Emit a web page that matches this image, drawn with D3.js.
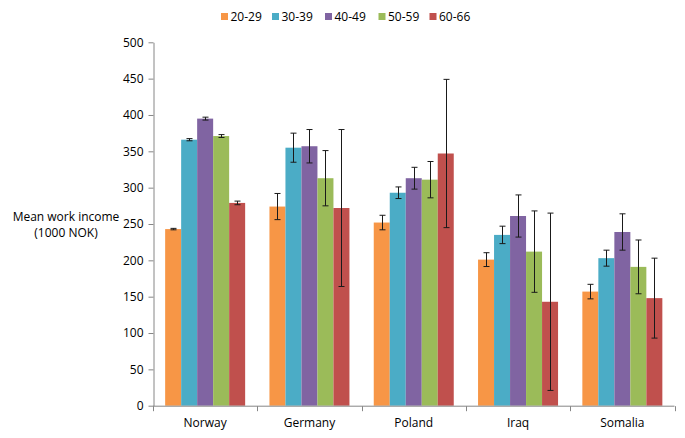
<!DOCTYPE html>
<html>
<head>
<meta charset="utf-8">
<script src="https://cdn.jsdelivr.net/npm/d3@7"></script>
<style>
  html, body { margin: 0; padding: 0; background: #fff; }
  svg { display: block; }
  text { font-family: "Open Sans", "Noto Sans", sans-serif; fill: #000; }
</style>
</head>
<body>
<svg id="chart" width="685" height="438"></svg>
<script>
const countries = ["Norway", "Germany", "Poland", "Iraq", "Somalia"];
const ageGroups = ["20-29", "30-39", "40-49", "50-59", "60-66"];
const colors = ["#F79646", "#4BACC6", "#8064A2", "#9BBB59", "#C0504D"];
const yTicks = [0, 50, 100, 150, 200, 250, 300, 350, 400, 450, 500];

// mean work income per age group, in country order
const income2029 = [243, 274, 252, 201, 157];
const income3039 = [366, 355, 293, 235, 203];
const income4049 = [395, 357, 313, 261, 239];
const income5059 = [371, 313, 311, 212, 191];
const income6066 = [279, 272, 347, 143, 148];

// error (half-width of error bar)
const err2029 = [1, 18, 10, 9.5, 10];
const err3039 = [1.5, 20, 8, 12, 11];
const err4049 = [2, 23, 15, 29, 25];
const err5059 = [2, 38, 25, 56, 37];
const err6066 = [2.5, 108, 102, 122, 55];

const values = [income2029, income3039, income4049, income5059, income6066];
const errors = [err2029, err3039, err4049, err5059, err6066];

const svg = d3.select("#chart");

const x0 = d3.scaleBand().domain(countries).range([153, 674.5]).padding(0);
const bw = x0.bandwidth();
const x1 = d3.scaleBand().domain(ageGroups).range([bw * 0.1165, bw * 0.8835]).padding(0);
const y = d3.scaleLinear().domain([0, 500]).range([405.7, 42.3]);

const data = [];
ageGroups.forEach((g, gi) => {
  countries.forEach((c, ci) => {
    data.push({ country: c, group: g, gi, value: values[gi][ci], err: errors[gi][ci] });
  });
});

// bars
svg.append("g").selectAll("rect").data(data).join("rect")
  .attr("x", d => x0(d.country) + x1(d.group))
  .attr("y", d => y(d.value))
  .attr("width", x1.bandwidth())
  .attr("height", d => y(0) - y(d.value))
  .attr("fill", d => colors[d.gi]);

// error bars
const eg = svg.append("g").attr("stroke", "#1a1a1a").attr("stroke-width", 1);
data.forEach(d => {
  const cx = Math.round(x0(d.country) + x1(d.group) + x1.bandwidth() / 2) + 0.5;
  const top = y(d.value + d.err), bot = y(d.value - d.err);
  eg.append("line").attr("x1", cx).attr("x2", cx).attr("y1", top).attr("y2", bot);
  eg.append("line").attr("x1", cx - 3).attr("x2", cx + 3).attr("y1", top).attr("y2", top);
  eg.append("line").attr("x1", cx - 3).attr("x2", cx + 3).attr("y1", bot).attr("y2", bot);
});

// y axis
const yAxis = svg.append("g")
  .attr("transform", "translate(153.5,0)")
  .call(d3.axisLeft(y).tickValues(yTicks).tickSize(5).tickPadding(5).tickSizeOuter(0));
yAxis.select(".domain").attr("stroke", "#868686");
yAxis.selectAll(".tick line").attr("stroke", "#868686");
yAxis.selectAll(".tick text").style("font-size", "12px").attr("font-family", null);

// x axis
const xAxisG = svg.append("g").attr("transform", `translate(0,${y(0) + 0.5})`);
xAxisG.append("line").attr("x1", 153).attr("x2", 674.5).attr("stroke", "#868686");
const bounds = countries.map(c => x0(c)).concat([x0(countries[countries.length - 1]) + bw]);
xAxisG.selectAll("line.tk").data(bounds).join("line").attr("class", "tk")
  .attr("x1", d => Math.round(d) + 0.5).attr("x2", d => Math.round(d) + 0.5)
  .attr("y1", 0).attr("y2", 5).attr("stroke", "#868686");
svg.append("g").selectAll("text").data(countries).join("text")
  .attr("x", d => x0(d) + bw / 2)
  .attr("y", 426.5)
  .attr("text-anchor", "middle")
  .style("font-size", "12px")
  .text(d => d);

// y label
const yl = svg.append("text").attr("text-anchor", "middle").style("font-size", "12px");
yl.append("tspan").attr("x", 66).attr("y", 220.5).text("Mean work income");
yl.append("tspan").attr("x", 66).attr("y", 236.5).text("(1000 NOK)");

// legend
const legendX = [221, 272, 325, 378.5, 429.5];
const lg = svg.append("g");
ageGroups.forEach((g, i) => {
  lg.append("rect").attr("x", legendX[i]).attr("y", 13).attr("width", 7).attr("height", 7).attr("fill", colors[i]);
  lg.append("text").attr("x", legendX[i] + 9.5).attr("y", 21).style("font-size", "12px").text(g);
});
</script>
</body>
</html>
